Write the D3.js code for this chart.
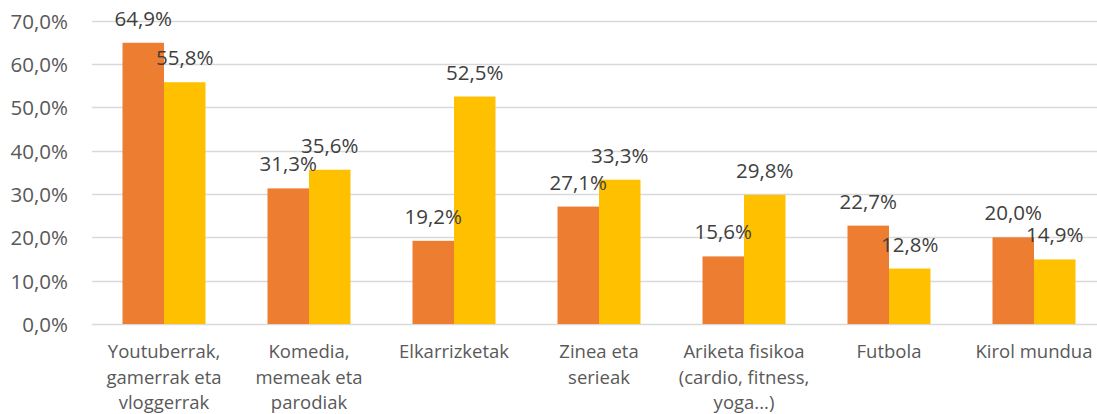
<!DOCTYPE html>
<html>
<head>
<meta charset="utf-8">
<script src="https://cdn.jsdelivr.net/npm/d3@7"></script>
<style>
  body { margin: 0; background: #fff; }
  text { font-family: "Open Sans", sans-serif; }
</style>
</head>
<body>
<svg id="chart"></svg>
<script>
const categories = [
    ["Youtuberrak,", "gamerrak eta", "vloggerrak"],
    ["Komedia,", "memeak eta", "parodiak"],
    ["Elkarrizketak"],
    ["Zinea eta", "serieak"],
    ["Ariketa fisikoa", "(cardio, fitness,", "yoga...)"],
    ["Futbola"],
    ["Kirol mundua"]
];
const series1 = [64.9, 31.3, 19.2, 27.1, 15.6, 22.7, 20.0];
const series2 = [55.8, 35.6, 52.5, 33.3, 29.8, 12.8, 14.9];
const yTicks = [0, 10, 20, 30, 40, 50, 60, 70];
const colors = ["#ED7D31", "#FFC000"];

const W = 1097, H = 414;
const svg = d3.select("#chart").attr("width", W).attr("height", H);

const fmt = v => v.toFixed(1).replace(".", ",") + "%";

const x = d3.scaleBand()
    .domain(d3.range(categories.length))
    .range([91.5, 1106.5])
    .paddingInner(0.4276)
    .paddingOuter(0.2138);

const xs = d3.scaleBand()
    .domain([0, 1])
    .range([0, x.bandwidth()]);

const y = d3.scaleLinear()
    .domain([0, 70])
    .range([324, 20.7]);

// gridlines
svg.append("g")
    .selectAll("line")
    .data(yTicks)
    .join("line")
    .attr("x1", 92)
    .attr("x2", W)
    .attr("y1", d => Math.round(y(d)) + 0.5)
    .attr("y2", d => Math.round(y(d)) + 0.5)
    .attr("stroke", "#d9d9d9")
    .attr("stroke-width", 1.3);

// y axis labels
const yAxis = svg.append("g")
    .attr("transform", "translate(68,0)")
    .call(d3.axisLeft(y).tickValues(yTicks).tickSize(0).tickPadding(0).tickFormat(fmt));
yAxis.select(".domain").remove();
yAxis.selectAll("text")
    .attr("fill", "#595959")
    .style("font-size", "20.5px")
    .style("font-family", "Open Sans")
    .attr("dy", "0.36em");

const data = categories.map((c, i) => ({ i: i, vals: [series1[i], series2[i]] }));

const groups = svg.append("g")
    .selectAll("g")
    .data(data)
    .join("g")
    .attr("transform", d => `translate(${x(d.i)},0)`);

groups.selectAll("rect")
    .data(d => d.vals.map((v, k) => ({ k: k, v: v })))
    .join("rect")
    .attr("x", d => xs(d.k))
    .attr("width", xs.bandwidth())
    .attr("y", d => y(d.v))
    .attr("height", d => y(0) - y(d.v))
    .attr("fill", d => colors[d.k]);

groups.selectAll(".lbl")
    .data(d => d.vals.map((v, k) => ({ k: k, v: v })))
    .join("text")
    .attr("class", "lbl")
    .attr("x", d => xs(d.k) + xs.bandwidth() / 2)
    .attr("y", d => y(d.v) - 17)
    .attr("text-anchor", "middle")
    .attr("fill", "#404040")
    .style("font-size", "20.5px")
    .text(d => fmt(d.v));

// category labels
const xl = svg.append("g")
    .selectAll("text")
    .data(data)
    .join("text")
    .attr("x", d => x(d.i) + x.bandwidth() / 2)
    .attr("y", 358)
    .attr("text-anchor", "middle")
    .attr("fill", "#595959")
    .style("font-size", "18.5px");

xl.selectAll("tspan")
    .data(d => categories[d.i])
    .join("tspan")
    .attr("x", function() { return d3.select(this.parentNode).attr("x"); })
    .attr("dy", (d, j) => j === 0 ? 0 : 25.5)
    .text(d => d);
</script>
</body>
</html>
